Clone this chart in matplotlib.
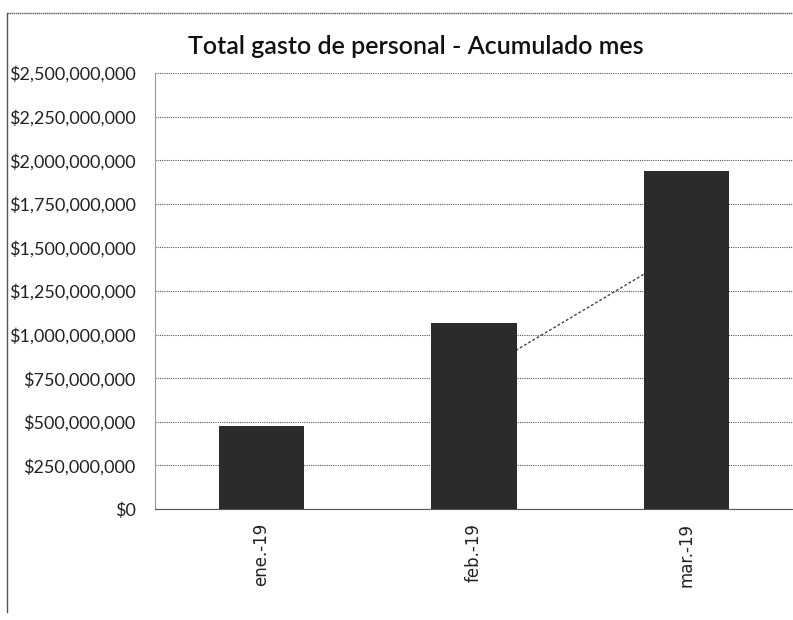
import numpy as np
import matplotlib
matplotlib.use("Agg")
import matplotlib.pyplot as plt
from matplotlib.ticker import FuncFormatter, MultipleLocator
from matplotlib.lines import Line2D

# data
meses = ["ene.-19", "feb.-19", "mar.-19"]
gasto = [475_000_000, 1_065_000_000, 1_940_000_000]
# dotted trendline seen between feb and mar
trend_x = [1, 2]
trend_y = [767_000_000, 1_492_000_000]

plt.rcParams['font.family'] = ['Lato', 'DejaVu Sans']

fig = plt.figure(figsize=(7.93, 6.2), dpi=100)
ax = fig.add_axes([155/793, 1 - 509/620, 1 - 155/793, 436/620])

x = np.arange(len(meses))
ax.plot(trend_x, trend_y, color='#444444', lw=1.0, ls=(0, (2, 1.5)), zorder=1)
ax.bar(x, gasto, width=0.4, color='#2b2b2b', zorder=2)

ax.set_xlim(-0.5, 2.5)
ax.set_ylim(0, 2_500_000_000)
ax.yaxis.set_major_locator(MultipleLocator(250_000_000))
ax.yaxis.set_major_formatter(FuncFormatter(lambda v, p: "${:,.0f}".format(v)))
ax.grid(axis='y', color='#555555', lw=0.8, ls=(0, (1, 1)), zorder=0)
ax.set_axisbelow(True)

for s in ['top', 'right']:
    ax.spines[s].set_visible(False)
ax.spines['left'].set_color('#999999')
ax.spines['left'].set_linestyle((0, (1, 1)))
ax.spines['left'].set_linewidth(0.8)
ax.spines['bottom'].set_color('#555555')
ax.spines['bottom'].set_linestyle((0, (1, 1)))
ax.spines['bottom'].set_linewidth(0.8)

ax.tick_params(axis='y', length=0, pad=14, labelsize=13, labelcolor='#222222')
ax.tick_params(axis='x', length=0, pad=10)
ax.set_xticks(x)
ax.set_xticklabels(meses, rotation=90, fontsize=12, family='DejaVu Sans',
                   color='#222222', va='top')

fig.text(416/793, 1 - 47/620, "Total gasto de personal - Acumulado mes",
         ha='center', va='center', fontsize=18, fontweight='semibold',
         color='#111111')

# chart frame from the scan (left and top edges)
fig.add_artist(Line2D([7/793, 7/793], [1 - 612/620, 1 - 13/620],
                      transform=fig.transFigure, color='#555555', lw=1.0))
fig.add_artist(Line2D([7/793, 1], [1 - 13/620, 1 - 13/620],
                      transform=fig.transFigure, color='#555555', lw=1.0,
                      ls=(0, (1, 0.5))))

fig.savefig("out.png", dpi=100)
